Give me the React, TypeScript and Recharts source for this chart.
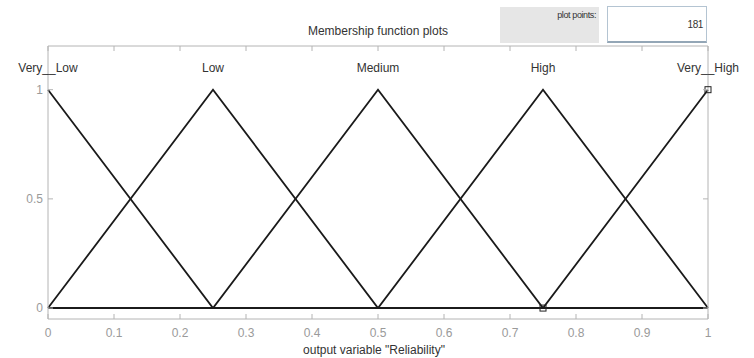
import React from 'react';
import { LineChart, Line, XAxis, YAxis, LabelList } from 'recharts';

// Breakpoints of the triangular membership functions on the output universe
const xPoints = [0, 0.25, 0.5, 0.75, 1];
const veryLow = [1, 0, 0, 0, 0];
const low = [0, 1, 0, 0, 0];
const medium = [0, 0, 1, 0, 0];
const high = [0, 0, 0, 1, 0];
const veryHigh = [0, 0, 0, 0, 1];

const mfNames = ['Very__Low', 'Low', 'Medium', 'High', 'Very__High'];
const mfKeys = ['vl', 'l', 'm', 'h', 'vh'];
const mfValues = [veryLow, low, medium, high, veryHigh];

const xTicks = [0, 0.1, 0.2, 0.3, 0.4, 0.5, 0.6, 0.7, 0.8, 0.9, 1];
const xTickLabels = ['0', '0.1', '0.2', '0.3', '0.4', '0.5', '0.6', '0.7', '0.8', '0.9', '1'];
const yTicks = [0, 0.5, 1];
const yTickLabels = ['0', '0.5', '1'];

// Vertices of the currently selected function (Very__High) get square handles
const selectedKey = 'vh';
const selectedVertices = [0.75, 1];

const plotPoints = 181;
const variableTitle = 'output variable "Reliability"';

const data = xPoints.map((x, i) => {
  const row: Record<string, number> = { x };
  mfKeys.forEach((k, j) => {
    row[k] = mfValues[j][i];
  });
  return row;
});

const AXIS = '#b4b4b4';
const TICK_TEXT = '#9a9a9a';
const LINE = '#1a1a1a';
const FONT = "'Liberation Sans', Arial, sans-serif";

const BottomTick = (props: any) => {
  const { x, y, index } = props;
  return (
    <g>
      <line x1={x} x2={x} y1={y} y2={y - 5} stroke={AXIS} />
      <text x={x} y={y + 14} dy="0.35em" textAnchor="middle" fill={TICK_TEXT} fontSize={12} fontFamily={FONT}>
        {xTickLabels[index]}
      </text>
    </g>
  );
};

const TopTick = (props: any) => {
  const { x, y } = props;
  return <line x1={x} x2={x} y1={y} y2={y + 5} stroke={AXIS} />;
};

const LeftTick = (props: any) => {
  const { x, y, index } = props;
  return (
    <g>
      <line x1={x} x2={x + 5} y1={y} y2={y} stroke={AXIS} />
      <text x={x - 5} y={y} dy="0.35em" textAnchor="end" fill={TICK_TEXT} fontSize={12} fontFamily={FONT}>
        {yTickLabels[index]}
      </text>
    </g>
  );
};

const RightTick = (props: any) => {
  const { x, y } = props;
  return <line x1={x} x2={x - 5} y1={y} y2={y} stroke={AXIS} />;
};

const peakLabel = (name: string) => (props: any) => {
  const { x, y, value } = props;
  if (value !== 1) return null;
  return (
    <text x={x} y={y - 22} dy="0.35em" textAnchor="middle" fill="#333" fontSize={12} fontFamily={FONT}>
      {name}
    </text>
  );
};

const vertexDot = (props: any) => {
  const { cx, cy, payload, index } = props;
  if (!selectedVertices.includes(payload.x)) return <g key={`d${index}`} />;
  return (
    <rect key={`d${index}`} x={cx - 3} y={cy - 3} width={6} height={6} fill="none" stroke="#222" strokeWidth={1} />
  );
};

export default function App() {
  return (
    <div
      style={{
        position: 'absolute',
        left: 0,
        top: 0,
        width: 754,
        height: 358,
        background: '#fff',
        fontFamily: FONT,
      }}
    >
      <LineChart width={754} height={358} data={data} margin={{ top: 45, right: 45, bottom: 38, left: 47 }}>
        <XAxis
          dataKey="x"
          type="number"
          domain={[0, 1]}
          ticks={xTicks}
          height={1}
          tickSize={0}
          tickMargin={0}
          tickLine={false}
          stroke={AXIS}
          tick={<BottomTick />}
          interval={0}
        />
        <XAxis
          xAxisId="top"
          orientation="top"
          dataKey="x"
          type="number"
          domain={[0, 1]}
          ticks={xTicks}
          height={1}
          tickSize={0}
          tickMargin={0}
          tickLine={false}
          stroke={AXIS}
          tick={<TopTick />}
          interval={0}
        />
        <YAxis
          type="number"
          domain={[-0.05, 1.2]}
          ticks={yTicks}
          width={1}
          tickSize={0}
          tickMargin={0}
          tickLine={false}
          stroke={AXIS}
          tick={<LeftTick />}
          interval={0}
          allowDataOverflow
        />
        <YAxis
          yAxisId="right"
          orientation="right"
          type="number"
          domain={[-0.05, 1.2]}
          ticks={yTicks}
          width={1}
          tickSize={0}
          tickMargin={0}
          tickLine={false}
          stroke={AXIS}
          tick={<RightTick />}
          interval={0}
          allowDataOverflow
        />
        {mfKeys.map((k, j) => (
          <Line
            key={k}
            dataKey={k}
            type="linear"
            stroke={LINE}
            strokeWidth={1.8}
            dot={k === selectedKey ? vertexDot : false}
            activeDot={false}
            isAnimationActive={false}
          >
            <LabelList dataKey={k} content={peakLabel(mfNames[j])} />
          </Line>
        ))}
      </LineChart>

      <div
        style={{
          position: 'absolute',
          left: 228,
          width: 300,
          top: 23,
          textAlign: 'center',
          fontSize: 12,
          color: '#333',
          lineHeight: '16px',
        }}
      >
        Membership function plots
      </div>

      <div
        style={{
          position: 'absolute',
          left: 500,
          top: 7,
          width: 99,
          height: 36,
          background: '#e6e6e6',
        }}
      >
        <div
          style={{
            position: 'absolute',
            right: 3,
            top: 3,
            fontSize: 9,
            letterSpacing: -0.4,
            color: '#333',
            lineHeight: '11px',
          }}
        >
          plot points:
        </div>
      </div>

      <div
        style={{
          position: 'absolute',
          left: 607,
          top: 6,
          width: 98,
          height: 34,
          background: '#fff',
          border: '1px solid #b4c4d2',
          borderBottom: '2px solid #93a6b6',
        }}
      >
        <div
          style={{
            position: 'absolute',
            right: 3,
            top: 12,
            fontSize: 10,
            letterSpacing: -0.4,
            color: '#333',
            lineHeight: '12px',
          }}
        >
          {plotPoints}
        </div>
      </div>

      <div
        style={{
          position: 'absolute',
          left: 224,
          width: 300,
          top: 343,
          textAlign: 'center',
          fontSize: 12,
          color: '#333',
          lineHeight: '15px',
        }}
      >
        {variableTitle}
      </div>
    </div>
  );
}
